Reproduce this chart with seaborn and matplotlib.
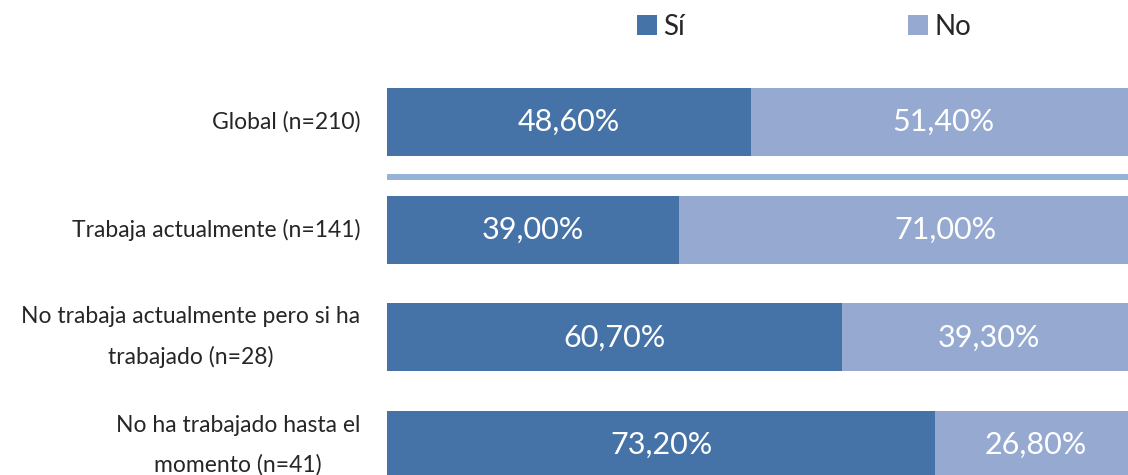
import matplotlib
matplotlib.use("Agg")
import matplotlib.pyplot as plt
import seaborn as sns
import pandas as pd
from matplotlib.patches import Patch

categories = ["Global (n=210)", "Trabaja actualmente (n=141)",
              "No trabaja actualmente pero si ha\ntrabajado (n=28)",
              "No ha trabajado hasta el\nmomento (n=41)"]
si_values = [48.6, 39.0, 60.7, 73.2]
no_values = [51.4, 71.0, 39.3, 26.8]
si_labels = ["48,60%", "39,00%", "60,70%", "73,20%"]
no_labels = ["51,40%", "71,00%", "39,30%", "26,80%"]
series_names = ["Sí", "No"]

C_SI = "#4673A7"
C_NO = "#95A9D1"
C_SEP = "#95B3D7"

sns.set_theme(style="white")
plt.rcParams["font.family"] = ["Lato", "DejaVu Sans"]

df = pd.DataFrame({"cat": categories, "si": si_values, "no": no_values})
df["total"] = df["si"] + df["no"]

fig = plt.figure(figsize=(11.28, 4.75), dpi=100)
ax = fig.add_axes([387 / 1128, 0, 741 / 1128, 1])

sns.barplot(data=df, y="cat", x="total", orient="h", color=C_NO, width=0.63,
            saturation=1, ax=ax, edgecolor="none")
sns.barplot(data=df, y="cat", x="si", orient="h", color=C_SI, width=0.63,
            saturation=1, ax=ax, edgecolor="none")

ax.set_xlim(0, 98.9)
ax.set_ylim(3.278, -1.133)
ax.set_xlabel("")
ax.set_ylabel("")
ax.set_xticks([])
for s in ax.spines.values():
    s.set_visible(False)

ax.set_yticks(range(len(categories)))
ax.set_yticklabels([])
ax.tick_params(axis="y", length=0, pad=0)

# category labels: lines centred on each other, block right edge at x=360px
labels = []
for i, c in enumerate(categories):
    t = ax.text(-0.2, i, c, transform=ax.get_yaxis_transform(), ha="center",
                va="center", fontsize=16.5, linespacing=2.05)
    labels.append(t)
fig.canvas.draw()
renderer = fig.canvas.get_renderer()
ax_left_px = ax.get_window_extent().x0
ax_w_px = ax.get_window_extent().width
for t in labels:
    bb = t.get_window_extent(renderer)
    shift = 360 - bb.x1
    x_axes = -0.2 + shift / ax_w_px
    t.set_x(x_axes)

for i in range(len(categories)):
    ax.text(si_values[i] / 2, i, si_labels[i], ha="center", va="center",
            color="white", fontsize=22)
    ax.text(si_values[i] + no_values[i] / 2, i, no_labels[i], ha="center",
            va="center", color="white", fontsize=22, clip_on=False)

ax.axhline(0.51, xmin=0.002, xmax=1, color=C_SEP, lw=4.3)

handles = [Patch(facecolor=C_SI, edgecolor="none"),
           Patch(facecolor=C_NO, edgecolor="none")]
fig.legend(handles, series_names, loc="center left",
           bbox_to_anchor=(637 / 1128, 1 - 27 / 475), ncol=2, frameon=False,
           fontsize=20, handlelength=0.72, handleheight=0.72,
           handletextpad=0.22, columnspacing=8.05, borderaxespad=0,
           borderpad=0)

fig.savefig("out.png", dpi=100)
